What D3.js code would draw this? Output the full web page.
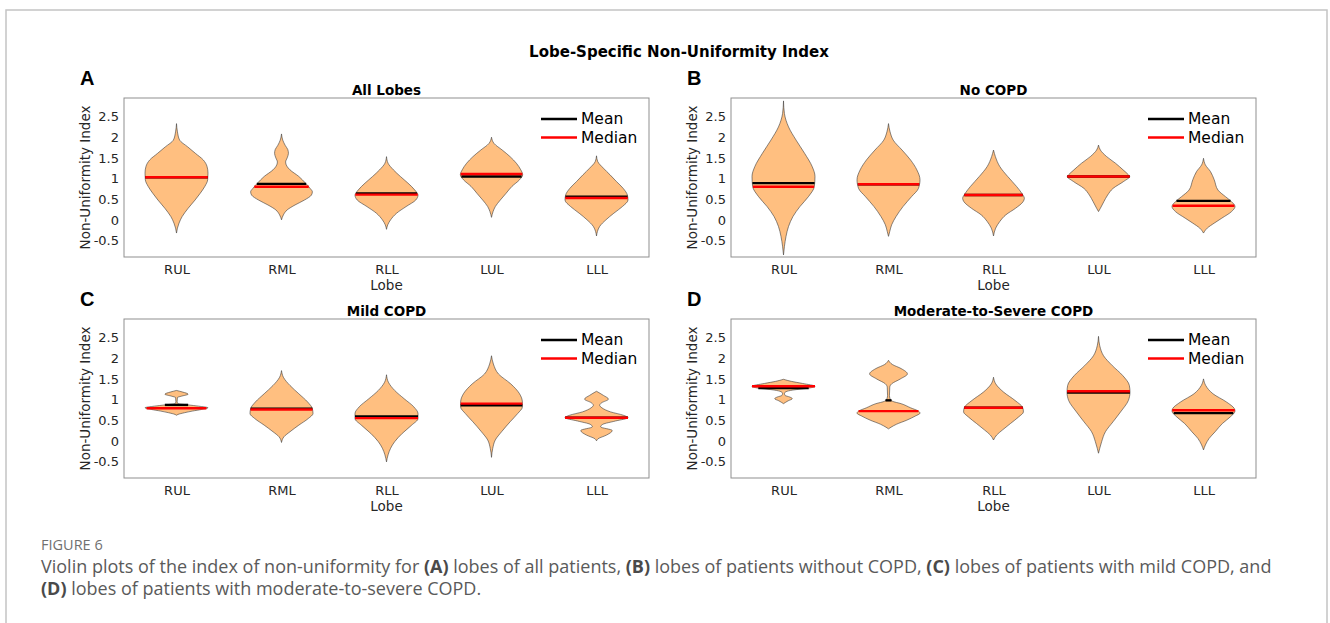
<!DOCTYPE html>
<html>
<head>
<meta charset="utf-8">
<script src="https://cdn.jsdelivr.net/npm/d3@7"></script>
<style>
  body { margin: 0; background: #fff; }
  svg { display: block; }
</style>
</head>
<body>
<svg id="fig" width="1330" height="623"></svg>
<script>
// lobes and axis ticks
const lobes = ["RUL", "RML", "RLL", "LUL", "LLL"];
const yTickValues = [-0.5, 0, 0.5, 1, 1.5, 2, 2.5];
const yDomain = [-0.9, 2.95];
const panelLetters = ["A", "B", "C", "D"];
const panelTitles = ["All Lobes", "No COPD", "Mild COPD", "Moderate-to-Severe COPD"];

// mean and median of the index, per lobe
const meanAll = [1.03, 0.87, 0.64, 1.05, 0.56];
const medianAll = [1.03, 0.80, 0.61, 1.11, 0.53];
const meanNoCopd = [0.89, 0.86, 0.60, 1.05, 0.46];
const medianNoCopd = [0.80, 0.86, 0.60, 1.05, 0.34];
const meanMild = [0.87, 0.78, 0.59, 0.86, 0.56];
const medianMild = [0.79, 0.76, 0.55, 0.90, 0.56];
const meanSevere = [1.28, 0.98, 0.80, 1.17, 0.67];
const medianSevere = [1.32, 0.72, 0.80, 1.20, 0.74];

// violin outlines: [index value, relative density (max 1)]
const profilesAll = [
  [[2.33,0],[2.13,0.03],[1.93,0.1],[1.77,0.35],[1.61,0.6],[1.45,0.85],[1.29,0.97],[1.13,1.0],[0.97,0.99],[0.81,0.9],[0.64,0.75],[0.48,0.59],[0.28,0.37],[0.08,0.18],[-0.08,0.08],[-0.2,0.03],[-0.32,0]],
  [[2.08,0],[1.93,0.04],[1.8,0.12],[1.7,0.2],[1.61,0.22],[1.5,0.18],[1.4,0.13],[1.3,0.17],[1.21,0.27],[1.05,0.55],[0.89,0.76],[0.76,0.91],[0.68,0.98],[0.6,0.95],[0.48,0.73],[0.36,0.43],[0.24,0.18],[0.12,0.06],[0,0]],
  [[1.53,0],[1.37,0.05],[1.21,0.22],[1.05,0.44],[0.89,0.68],[0.72,0.9],[0.6,1.0],[0.48,0.93],[0.32,0.62],[0.16,0.32],[0,0.13],[-0.12,0.04],[-0.23,0]],
  [[2.0,0],[1.85,0.08],[1.69,0.34],[1.53,0.59],[1.37,0.79],[1.21,0.93],[1.09,0.99],[0.97,0.89],[0.81,0.65],[0.64,0.46],[0.48,0.28],[0.32,0.12],[0.2,0.05],[0.06,0]],
  [[1.55,0],[1.41,0.04],[1.25,0.22],[1.09,0.43],[0.93,0.63],[0.76,0.85],[0.6,0.98],[0.48,1.0],[0.32,0.82],[0.16,0.55],[0,0.3],[-0.16,0.1],[-0.28,0.03],[-0.39,0]]
];
const profilesNoCopd = [
  [[2.88,0],[2.57,0.03],[2.25,0.16],[1.93,0.4],[1.61,0.67],[1.29,0.91],[1.05,1.0],[0.81,0.98],[0.56,0.79],[0.32,0.52],[0.08,0.3],[-0.16,0.16],[-0.4,0.08],[-0.64,0.03],[-0.85,0]],
  [[2.33,0],[2.13,0.05],[1.93,0.15],[1.69,0.43],[1.45,0.7],[1.21,0.9],[0.97,1.0],[0.76,0.95],[0.56,0.73],[0.32,0.46],[0.08,0.24],[-0.12,0.1],[-0.28,0.04],[-0.4,0]],
  [[1.69,0],[1.53,0.06],[1.29,0.2],[1.05,0.45],[0.81,0.73],[0.64,0.9],[0.52,0.98],[0.44,0.94],[0.28,0.7],[0.12,0.39],[-0.04,0.2],[-0.2,0.07],[-0.39,0]],
  [[1.81,0],[1.69,0.06],[1.53,0.26],[1.37,0.54],[1.21,0.78],[1.09,0.95],[1.05,0.99],[0.93,0.8],[0.76,0.46],[0.6,0.29],[0.44,0.17],[0.28,0.06],[0.2,0]],
  [[1.49,0],[1.33,0.06],[1.17,0.22],[0.97,0.34],[0.72,0.46],[0.56,0.7],[0.44,0.89],[0.32,1.0],[0.2,0.89],[0.04,0.58],[-0.08,0.34],[-0.2,0.12],[-0.32,0]]
];
const profilesMild = [
  [[1.22,0],[1.18,0.2],[1.13,0.37],[1.08,0.15],[1.05,0.03],[0.95,0.02],[0.9,0.05],[0.87,0.37],[0.84,0.7],[0.8,1.0],[0.76,0.8],[0.72,0.5],[0.68,0.25],[0.64,0.05],[0.62,0]],
  [[1.7,0],[1.54,0.06],[1.34,0.27],[1.14,0.55],[0.94,0.83],[0.78,0.98],[0.66,1.0],[0.54,0.85],[0.38,0.55],[0.22,0.27],[0.1,0.08],[-0.04,0]],
  [[1.6,0],[1.42,0.06],[1.22,0.26],[1.02,0.56],[0.82,0.87],[0.66,1.0],[0.54,1.0],[0.38,0.8],[0.18,0.5],[-0.02,0.26],[-0.18,0.13],[-0.34,0.05],[-0.51,0]],
  [[2.06,0],[1.86,0.06],[1.62,0.22],[1.38,0.61],[1.14,0.89],[0.94,0.98],[0.82,0.98],[0.66,0.83],[0.46,0.59],[0.22,0.32],[0.02,0.12],[-0.18,0.04],[-0.4,0]],
  [[1.2,0],[1.1,0.22],[1.01,0.38],[0.92,0.16],[0.86,0.1],[0.8,0.17],[0.7,0.45],[0.62,0.85],[0.56,1.0],[0.48,0.6],[0.4,0.2],[0.34,0.13],[0.25,0.5],[0.14,0.32],[0.05,0.05],[0,0]]
];
const profilesSevere = [
  [[1.49,0],[1.44,0.25],[1.39,0.6],[1.32,1.0],[1.27,0.75],[1.23,0.3],[1.19,0.08],[1.15,0.03],[1.1,0.05],[1.06,0.2],[1.02,0.28],[0.97,0.15],[0.9,0]],
  [[1.95,0],[1.85,0.12],[1.75,0.4],[1.62,0.6],[1.5,0.38],[1.38,0.1],[1.3,0.04],[1.1,0.03],[1.02,0.05],[0.96,0.12],[0.9,0.4],[0.8,0.7],[0.72,0.95],[0.67,1.0],[0.6,0.85],[0.5,0.58],[0.4,0.25],[0.33,0.08],[0.29,0]],
  [[1.54,0],[1.38,0.07],[1.18,0.32],[0.98,0.68],[0.8,0.93],[0.7,0.95],[0.58,0.8],[0.42,0.54],[0.26,0.28],[0.14,0.1],[0.02,0]],
  [[2.53,0],[2.3,0.04],[2.06,0.16],[1.82,0.44],[1.58,0.77],[1.34,0.98],[1.18,1.0],[0.98,0.95],[0.7,0.7],[0.46,0.46],[0.22,0.22],[-0.02,0.1],[-0.18,0.04],[-0.3,0]],
  [[1.5,0],[1.34,0.07],[1.14,0.3],[0.94,0.73],[0.78,0.98],[0.72,1.0],[0.58,0.85],[0.42,0.6],[0.22,0.37],[0.06,0.18],[-0.1,0.06],[-0.22,0]]
];

const panels = [
  { profiles: profilesAll, mean: meanAll, median: medianAll },
  { profiles: profilesNoCopd, mean: meanNoCopd, median: medianNoCopd },
  { profiles: profilesMild, mean: meanMild, median: medianMild },
  { profiles: profilesSevere, mean: meanSevere, median: medianSevere }
];

const panelPos = [[124, 98], [731, 98], [124, 319], [731, 319]];
const pw = 525, ph = 159;
const violinHalf = 0.3; // half width of the widest point, in category steps

const svg = d3.select("#fig");

// page frame
svg.append("path")
  .attr("d", "M6,623V10H1327V623")
  .attr("fill", "none")
  .attr("stroke", "#c4c4c4")
  .attr("stroke-width", 1.5);

svg.append("text")
  .attr("x", 679).attr("y", 57)
  .attr("text-anchor", "middle")
  .style("font", "bold 15px 'DejaVu Sans'")
  .text("Lobe-Specific Non-Uniformity Index");

const x = d3.scalePoint().domain(lobes).range([0, pw]).padding(0.5);
const y = d3.scaleLinear().domain(yDomain).range([ph, 0]);
const half = w => w * violinHalf * x.step();

// density at a value, linear between the read points
function widthAt(prof, v) {
  for (let k = 0; k < prof.length - 1; k++) {
    const a = prof[k], b = prof[k + 1];
    if (v <= a[0] && v >= b[0]) {
      const t = (a[0] - v) / (a[0] - b[0]);
      return a[1] + t * (b[1] - a[1]);
    }
  }
  return 0;
}

panels.forEach((p, i) => {
  const g = svg.append("g")
    .attr("transform", `translate(${panelPos[i][0]},${panelPos[i][1]})`);

  g.append("rect")
    .attr("width", pw).attr("height", ph)
    .attr("fill", "#fff");

  lobes.forEach((lobe, j) => {
    const cx = x(lobe);
    const prof = p.profiles[j];
    const area = d3.area()
      .y(d => y(d[0]))
      .x0(d => cx - half(d[1]))
      .x1(d => cx + half(d[1]))
      .curve(d3.curveMonotoneY);

    g.append("path")
      .datum(prof)
      .attr("d", area)
      .attr("fill", "#ffbf80")
      .attr("stroke", "#3a3a3a")
      .attr("stroke-width", 0.6);

    const stats = [[p.mean[j], "#000"], [p.median[j], "#ff0000"]];
    stats.forEach(([v, col]) => {
      const hw = half(widthAt(prof, v));
      g.append("line")
        .attr("x1", cx - hw).attr("x2", cx + hw)
        .attr("y1", y(v)).attr("y2", y(v))
        .attr("stroke", col)
        .attr("stroke-width", 2.4);
    });
  });

  g.append("rect")
    .attr("width", pw).attr("height", ph)
    .attr("fill", "none")
    .attr("stroke", "#8f8f8f")
    .attr("stroke-width", 1);

  // axes (no tick marks, like the original)
  g.append("g")
    .call(d3.axisLeft(y).tickValues(yTickValues).tickSize(0).tickPadding(5).tickFormat(d => String(d)))
    .call(a => a.select(".domain").remove())
    .selectAll("text")
    .style("font", "13px 'DejaVu Sans'")
    .attr("fill", "#262626");

  g.append("g")
    .attr("transform", `translate(0,${ph})`)
    .call(d3.axisBottom(x).tickSize(0).tickPadding(8))
    .call(a => a.select(".domain").remove())
    .selectAll("text")
    .style("font", "13px 'DejaVu Sans'")
    .attr("fill", "#262626");

  g.append("text")
    .attr("x", pw / 2).attr("y", ph + 33)
    .attr("text-anchor", "middle")
    .style("font", "13.5px 'DejaVu Sans'")
    .attr("fill", "#262626")
    .text("Lobe");

  g.append("text")
    .attr("transform", "rotate(-90)")
    .attr("x", -ph / 2).attr("y", -34)
    .attr("text-anchor", "middle")
    .style("font", "13.5px 'DejaVu Sans'")
    .attr("fill", "#262626")
    .text("Non-Uniformity Index");

  g.append("text")
    .attr("x", pw / 2).attr("y", -3)
    .attr("text-anchor", "middle")
    .style("font", "bold 13.5px 'DejaVu Sans'")
    .text(panelTitles[i]);

  g.append("text")
    .attr("x", -44).attr("y", -13)
    .style("font", "bold 20px 'Liberation Sans'")
    .text(panelLetters[i]);

  // legend
  const legend = [["Mean", "#000"], ["Median", "#ff0000"]];
  legend.forEach(([name, col], k) => {
    const ly = 21 + k * 18.5;
    g.append("line")
      .attr("x1", 417).attr("x2", 453)
      .attr("y1", ly).attr("y2", ly)
      .attr("stroke", col).attr("stroke-width", 2.4);
    g.append("text")
      .attr("x", 457).attr("y", ly)
      .attr("dominant-baseline", "central")
      .style("font", "15.5px 'DejaVu Sans'")
      .text(name);
  });
});

// caption
svg.append("text")
  .attr("x", 41).attr("y", 550)
  .style("font", "14.5px 'Open Sans'")
  .attr("fill", "#707070")
  .text("FIGURE 6");

const captionLines = [
  [["Violin plots of the index of non-uniformity for ", 0], ["(A)", 1], [" lobes of all patients, ", 0], ["(B)", 1],
   [" lobes of patients without COPD, ", 0], ["(C)", 1], [" lobes of patients with mild COPD, and", 0]],
  [["(D)", 1], [" lobes of patients with moderate-to-severe COPD.", 0]]
];
captionLines.forEach((parts, k) => {
  const t = svg.append("text")
    .attr("x", 41).attr("y", 573 + k * 22)
    .style("font", "18px 'Open Sans'")
    .attr("fill", "#5a5a5a");
  parts.forEach(([s, b]) => {
    t.append("tspan")
      .attr("font-weight", b ? "bold" : "normal")
      .attr("fill", b ? "#4a4a4a" : "#5a5a5a")
      .text(s);
  });
});
</script>
</body>
</html>
